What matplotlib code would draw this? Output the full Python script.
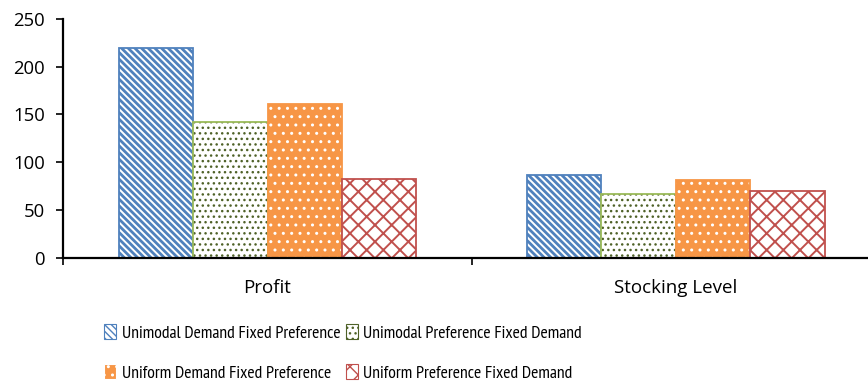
import matplotlib.pyplot as plt
import numpy as np

plt.rcParams['font.family'] = ['Open Sans', 'DejaVu Sans']

categories = ['Profit', 'Stocking Level']
series_names = ['Unimodal Demand Fixed Preference', 'Unimodal Preference Fixed Demand',
                'Uniform Demand Fixed Preference', 'Uniform Preference Fixed Demand']
unimodal_demand = [220, 87]
unimodal_pref = [142, 67]
uniform_demand = [161, 81]
uniform_pref = [82, 70]
values = [unimodal_demand, unimodal_pref, uniform_demand, uniform_pref]

# (face, hatch colour, edge colour, hatch, hatch linewidth)
styles = [
    ('white', '#4F81BD', '#4F81BD', '\\\\\\\\\\', 2.0),
    ('white', '#4F6228', '#9BBB59', '...', 1.0),
    ('#F79646', 'white', '#F79646', '..', 1.0),
    ('white', '#C0504D', '#C0504D', 'xx', 1.4),
]

fig = plt.figure(figsize=(8.68, 3.83), dpi=100)
ax = fig.add_axes([63.3 / 868, 125.3 / 383, 816.8 / 868, 238.7 / 383])

x = np.arange(len(categories))
w = 0.1824
handles = []
for i, (vals, (fc, hc, ec, hatch, hlw)) in enumerate(zip(values, styles)):
    pos = x + (i - 1.5) * w
    with plt.rc_context({'hatch.linewidth': hlw}):
        ax.bar(pos, vals, w, facecolor=fc, edgecolor=hc, hatch=hatch, linewidth=0)
    ax.bar(pos, vals, w, facecolor='none', edgecolor=ec, linewidth=1.3)
    with plt.rc_context({'hatch.linewidth': hlw}):
        h = plt.Rectangle((0, 0), 1, 1, facecolor=fc, edgecolor=hc, hatch=hatch, linewidth=0.8)
    handles.append(h)

ax.set_xlim(-0.5, 1.5)
ax.set_ylim(0, 250)
ax.set_yticks(range(0, 251, 50))
ax.set_xticks(x)
ax.set_xticklabels(categories)
ax.set_xticks([-0.5, 0.5, 1.5], minor=True)
ax.tick_params(axis='x', which='major', length=0, pad=15, labelsize=13.5)
ax.tick_params(axis='x', which='minor', length=5, width=1.2, direction='out')
ax.tick_params(axis='y', length=5, width=1.2, direction='out', labelsize=13.3, pad=8)
for s in ['top', 'right']:
    ax.spines[s].set_visible(False)
for s in ['left', 'bottom']:
    ax.spines[s].set_linewidth(1.6)

# legend fills row by row
order = [0, 2, 1, 3]
fig.legend([handles[k] for k in order], [series_names[k] for k in order], ncol=2,
           loc='center', bbox_to_anchor=(343 / 868, 1 - 353 / 383),
           frameon=False, prop={'family': ['PT Sans Narrow', 'DejaVu Sans'], 'size': 12.7},
           handlelength=0.7, handleheight=0.9, handletextpad=0.3,
           columnspacing=0.3, labelspacing=1.3)

fig.savefig('out.png')
